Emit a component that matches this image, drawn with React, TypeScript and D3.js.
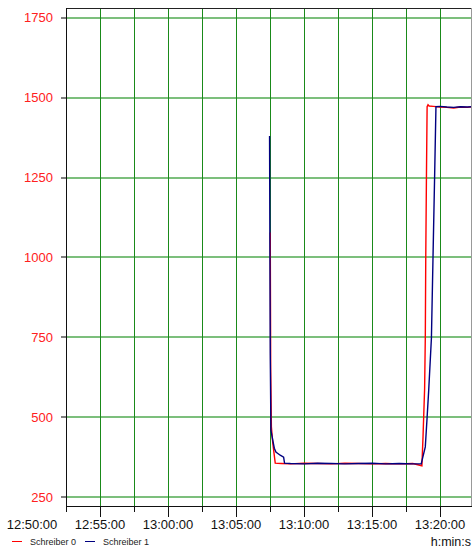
import React, { useRef, useEffect } from 'react';
import * as d3 from 'd3';

const majorTicks = ['12:50:00', '12:55:00', '13:00:00', '13:05:00', '13:10:00', '13:15:00', '13:20:00'];
const minorTicks = ['12:52:30', '12:57:30', '13:02:30', '13:07:30', '13:12:30', '13:17:30'];
const yTicks = [250, 500, 750, 1000, 1250, 1500, 1750];
const timeDomain = ['12:52:30', '13:22:21'];
const valueDomain = [222, 1781];

// Schreiber 0 (red)
const schreiber0: [string, number][] = [
  ['13:07:31', 1078], ['13:07:33', 650], ['13:07:36', 470], ['13:07:42', 420],
  ['13:07:48', 385], ['13:07:53', 356], ['13:08:20', 355], ['13:09:00', 354],
  ['13:10:00', 356], ['13:11:00', 355], ['13:12:00', 354], ['13:13:00', 356],
  ['13:14:00', 355], ['13:15:00', 354], ['13:16:00', 355], ['13:17:00', 354],
  ['13:18:00', 355], ['13:18:40', 348], ['13:18:45', 440], ['13:18:52', 590],
  ['13:18:55', 750], ['13:18:57', 1000], ['13:19:00', 1250], ['13:19:03', 1472],
  ['13:19:07', 1478], ['13:19:12', 1474], ['13:19:30', 1473], ['13:20:00', 1471],
  ['13:20:30', 1470], ['13:21:00', 1468], ['13:21:30', 1471], ['13:22:00', 1470],
  ['13:22:21', 1472],
];

// Schreiber 1 (blue)
const schreiber1: [string, number][] = [
  ['13:07:28', 1380], ['13:07:31', 700], ['13:07:34', 459], ['13:07:42', 428],
  ['13:07:49', 403], ['13:07:56', 391], ['13:08:15', 381], ['13:08:30', 375],
  ['13:08:34', 356], ['13:09:00', 355], ['13:10:00', 354], ['13:11:00', 356],
  ['13:12:00', 355], ['13:13:00', 354], ['13:14:00', 355], ['13:15:00', 356],
  ['13:16:00', 354], ['13:17:00', 355], ['13:18:00', 354], ['13:18:37', 354],
  ['13:18:55', 407], ['13:19:03', 500], ['13:19:10', 584], ['13:19:22', 748],
  ['13:19:29', 1001], ['13:19:36', 1250], ['13:19:42', 1472], ['13:20:00', 1473],
  ['13:20:30', 1471], ['13:21:00', 1470], ['13:21:30', 1472], ['13:22:00', 1471],
  ['13:22:21', 1472],
];

const FONT = '"Liberation Sans", Arial, sans-serif';

const App = () => {
  const svgRef = useRef<SVGSVGElement>(null);
  const width = 473;
  const height = 549;

  useEffect(() => {
    const svg = d3.select(svgRef.current);
    svg.selectAll('*').remove();

    const left = 66, right = 472, top = 8, bottom = 506;
    const parse = d3.timeParse('%H:%M:%S');

    const x = d3.scaleTime()
      .domain(timeDomain.map(t => parse(t) as Date))
      .range([left, right]);

    const y = d3.scaleLinear()
      .domain(valueDomain)
      .range([bottom, top]);

    const inDomain = (t: string) => {
      const px = x(parse(t) as Date);
      return px >= left - 0.5 && px <= right;
    };

    svg.append('defs').append('clipPath').attr('id', 'plot-clip')
      .append('rect')
      .attr('x', left).attr('y', top)
      .attr('width', right - left).attr('height', bottom - top);

    // horizontal grid
    svg.append('g')
      .selectAll('line')
      .data(yTicks)
      .enter().append('line')
      .attr('x1', left).attr('x2', right)
      .attr('y1', d => Math.round(y(d)))
      .attr('y2', d => Math.round(y(d)))
      .attr('stroke', '#7cbf7c')
      .attr('stroke-width', 2);

    // vertical grid
    const gridTimes = [...majorTicks, ...minorTicks].filter(inDomain);
    svg.append('g')
      .selectAll('line')
      .data(gridTimes)
      .enter().append('line')
      .attr('x1', d => Math.round(x(parse(d) as Date)) + 0.5)
      .attr('x2', d => Math.round(x(parse(d) as Date)) + 0.5)
      .attr('y1', top).attr('y2', bottom)
      .attr('stroke', '#1a8a1a')
      .attr('stroke-width', 1);

    // series
    const line = d3.line<[string, number]>()
      .x(d => x(parse(d[0]) as Date))
      .y(d => y(d[1]));

    const plot = svg.append('g').attr('clip-path', 'url(#plot-clip)');
    plot.append('path')
      .datum(schreiber0)
      .attr('fill', 'none')
      .attr('stroke', '#ff0000')
      .attr('stroke-width', 1.4)
      .attr('d', line);
    plot.append('path')
      .datum(schreiber1)
      .attr('fill', 'none')
      .attr('stroke', '#000080')
      .attr('stroke-width', 1.4)
      .attr('d', line);

    // frame
    svg.append('line')
      .attr('x1', left).attr('x2', right)
      .attr('y1', top + 0.5).attr('y2', top + 0.5)
      .attr('stroke', '#222');
    svg.append('line')
      .attr('x1', right - 0.5).attr('x2', right - 0.5)
      .attr('y1', top).attr('y2', bottom)
      .attr('stroke', '#999');
    svg.append('line')
      .attr('x1', left + 0.5).attr('x2', left + 0.5)
      .attr('y1', top).attr('y2', bottom)
      .attr('stroke', '#111');
    svg.append('line')
      .attr('x1', left).attr('x2', right)
      .attr('y1', bottom + 0.5).attr('y2', bottom + 0.5)
      .attr('stroke', '#111');

    // y axis ticks + labels
    const yAxis = svg.append('g');
    yAxis.selectAll('line')
      .data(yTicks)
      .enter().append('line')
      .attr('x1', left - 5).attr('x2', left)
      .attr('y1', d => Math.round(y(d)))
      .attr('y2', d => Math.round(y(d)))
      .attr('stroke', '#555')
      .attr('stroke-width', 1.5);
    yAxis.selectAll('text')
      .data(yTicks)
      .enter().append('text')
      .attr('x', 53)
      .attr('y', d => y(d) + 4.5)
      .attr('text-anchor', 'end')
      .attr('fill', '#ff2020')
      .style('font-family', FONT)
      .style('font-size', '13px')
      .text(d => d);

    // x axis ticks + labels
    const xAxis = svg.append('g');
    xAxis.selectAll('line.major')
      .data(majorTicks.filter(inDomain))
      .enter().append('line')
      .attr('class', 'major')
      .attr('x1', d => Math.round(x(parse(d) as Date)) + 0.5)
      .attr('x2', d => Math.round(x(parse(d) as Date)) + 0.5)
      .attr('y1', bottom).attr('y2', bottom + 11)
      .attr('stroke', '#111');
    xAxis.selectAll('line.minor')
      .data(minorTicks.filter(inDomain))
      .enter().append('line')
      .attr('class', 'minor')
      .attr('x1', d => Math.round(x(parse(d) as Date)) + 0.5)
      .attr('x2', d => Math.round(x(parse(d) as Date)) + 0.5)
      .attr('y1', bottom).attr('y2', bottom + 6)
      .attr('stroke', '#111');
    xAxis.selectAll('text')
      .data(majorTicks)
      .enter().append('text')
      .attr('x', d => x(parse(d) as Date))
      .attr('y', 529)
      .attr('text-anchor', 'middle')
      .attr('fill', '#111')
      .style('font-family', FONT)
      .style('font-size', '13px')
      .text(d => d);

    svg.append('text')
      .attr('x', 471)
      .attr('y', 546)
      .attr('text-anchor', 'end')
      .attr('fill', '#111')
      .style('font-family', FONT)
      .style('font-size', '12.5px')
      .text('h:min:s');

    // legend
    const legend = [
      { label: 'Schreiber 0', color: '#ff0000', x: 12 },
      { label: 'Schreiber 1', color: '#000080', x: 85 },
    ];
    const lg = svg.append('g');
    legend.forEach(l => {
      lg.append('line')
        .attr('x1', l.x).attr('x2', l.x + 10)
        .attr('y1', 541.5).attr('y2', 541.5)
        .attr('stroke', l.color)
        .attr('stroke-width', 1);
      lg.append('text')
        .attr('x', l.x + 18)
        .attr('y', 545)
        .attr('fill', '#222')
        .style('font-family', FONT)
        .style('font-size', '9px')
        .text(l.label);
    });
  }, []);

  return (
    <svg
      ref={svgRef}
      width={width}
      height={height}
      style={{ position: 'absolute', left: 0, top: 0, background: '#fff' }}
    ></svg>
  );
};

export default App;
